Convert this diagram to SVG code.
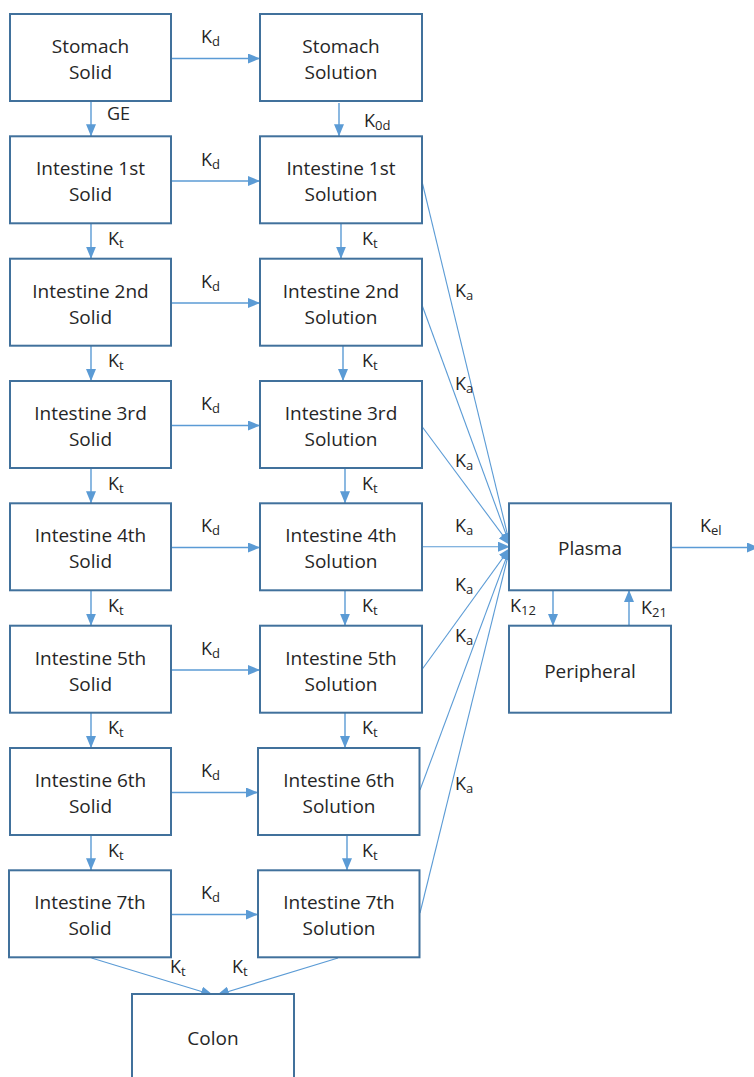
<svg xmlns="http://www.w3.org/2000/svg" width="754" height="1077" viewBox="0 0 754 1077">
<style>
.box{fill:#fff;stroke:#41719C;stroke-width:2}
.t{font-family:"Open Sans","Liberation Sans",sans-serif;font-size:19px;fill:#262626;text-anchor:middle}
.l{font-family:"Open Sans","Liberation Sans",sans-serif;font-size:18px;fill:#262626}
.s{font-size:13px}
.c{stroke:#5B9BD5;stroke-width:1.4;fill:none;marker-end:url(#ah)}
.ka{stroke:#5B9BD5;stroke-width:1.1;fill:none;marker-end:url(#ah)}
</style>
<defs>
<marker id="ah" viewBox="0 0 12 10" refX="12" refY="5" markerWidth="12" markerHeight="10" markerUnits="userSpaceOnUse" orient="auto"><path d="M0,0 L12,5 L0,10 z" fill="#5B9BD5"/></marker>
</defs>
<rect width="754" height="1077" fill="#fff"/>

<g id="connectors">
<line class="c" x1="171" y1="58.5" x2="260" y2="58.5"/>
<line class="c" x1="171" y1="181" x2="260" y2="181"/>
<line class="c" x1="171" y1="303" x2="260" y2="303"/>
<line class="c" x1="171" y1="425.5" x2="260" y2="425.5"/>
<line class="c" x1="171" y1="547.5" x2="260" y2="547.5"/>
<line class="c" x1="171" y1="670" x2="260" y2="670"/>
<line class="c" x1="171" y1="792.5" x2="258" y2="792.5"/>
<line class="c" x1="171" y1="914.5" x2="258" y2="914.5"/>
<line class="c" x1="91" y1="101" x2="91" y2="136.3"/>
<line class="c" x1="91" y1="223.3" x2="91" y2="258.7"/>
<line class="c" x1="91" y1="345.7" x2="91" y2="381"/>
<line class="c" x1="91" y1="468" x2="91" y2="503.3"/>
<line class="c" x1="91" y1="590.3" x2="91" y2="625.7"/>
<line class="c" x1="91" y1="712.7" x2="91" y2="748"/>
<line class="c" x1="91" y1="835" x2="91" y2="870.3"/>
<line class="c" x1="339" y1="103" x2="339" y2="136.3"/>
<line class="c" x1="341" y1="223.3" x2="341" y2="258.7"/>
<line class="c" x1="343" y1="345.7" x2="343" y2="381"/>
<line class="c" x1="345" y1="468" x2="345" y2="503.3"/>
<line class="c" x1="345" y1="590.3" x2="345" y2="625.7"/>
<line class="c" x1="345" y1="712.7" x2="345" y2="748"/>
<line class="c" x1="347" y1="835" x2="347" y2="870.3"/>
<line class="ka" x1="422" y1="181.5" x2="510" y2="545"/>
<line class="ka" x1="422" y1="305" x2="510" y2="545"/>
<line class="ka" x1="422" y1="426.5" x2="510" y2="545"/>
<line class="ka" x1="422" y1="546.7" x2="510" y2="546.7"/>
<line class="ka" x1="422" y1="669.5" x2="510" y2="548"/>
<line class="ka" x1="420" y1="790" x2="510" y2="548"/>
<line class="ka" x1="420" y1="913" x2="510" y2="548"/>
<line class="c" x1="671" y1="547.5" x2="759" y2="547.5"/>
<line class="c" x1="553" y1="590" x2="553" y2="626"/>
<line class="c" x1="629" y1="626" x2="629" y2="590"/>
<line class="ka" x1="91.5" y1="958" x2="213" y2="995"/>
<line class="ka" x1="338" y1="958" x2="217" y2="995"/>
</g>

<g id="labels">
<text class="l" x="201" y="43">K<tspan class="s" dy="3">d</tspan></text>
<text class="l" x="201" y="166">K<tspan class="s" dy="3">d</tspan></text>
<text class="l" x="201" y="288">K<tspan class="s" dy="3">d</tspan></text>
<text class="l" x="201" y="410">K<tspan class="s" dy="3">d</tspan></text>
<text class="l" x="201" y="532">K<tspan class="s" dy="3">d</tspan></text>
<text class="l" x="201" y="655">K<tspan class="s" dy="3">d</tspan></text>
<text class="l" x="201" y="777">K<tspan class="s" dy="3">d</tspan></text>
<text class="l" x="201" y="899">K<tspan class="s" dy="3">d</tspan></text>
<text class="l" x="107" y="120">GE</text>
<text class="l" x="108" y="245">K<tspan class="s" dy="3">t</tspan></text>
<text class="l" x="108" y="367">K<tspan class="s" dy="3">t</tspan></text>
<text class="l" x="108" y="490">K<tspan class="s" dy="3">t</tspan></text>
<text class="l" x="108" y="612">K<tspan class="s" dy="3">t</tspan></text>
<text class="l" x="108" y="734">K<tspan class="s" dy="3">t</tspan></text>
<text class="l" x="108" y="857">K<tspan class="s" dy="3">t</tspan></text>
<text class="l" x="364" y="127">K<tspan class="s" dy="3">0d</tspan></text>
<text class="l" x="362" y="245">K<tspan class="s" dy="3">t</tspan></text>
<text class="l" x="362" y="367">K<tspan class="s" dy="3">t</tspan></text>
<text class="l" x="362" y="490">K<tspan class="s" dy="3">t</tspan></text>
<text class="l" x="362" y="612">K<tspan class="s" dy="3">t</tspan></text>
<text class="l" x="362" y="734">K<tspan class="s" dy="3">t</tspan></text>
<text class="l" x="362" y="857">K<tspan class="s" dy="3">t</tspan></text>
<text class="l" x="455" y="297">K<tspan class="s" dy="3">a</tspan></text>
<text class="l" x="455" y="390">K<tspan class="s" dy="3">a</tspan></text>
<text class="l" x="455" y="467">K<tspan class="s" dy="3">a</tspan></text>
<text class="l" x="455" y="532">K<tspan class="s" dy="3">a</tspan></text>
<text class="l" x="455" y="591">K<tspan class="s" dy="3">a</tspan></text>
<text class="l" x="455" y="642">K<tspan class="s" dy="3">a</tspan></text>
<text class="l" x="455" y="790">K<tspan class="s" dy="3">a</tspan></text>
<text class="l" x="700" y="532">K<tspan class="s" dy="3">el</tspan></text>
<text class="l" x="510" y="612">K<tspan class="s" dy="3">12</tspan></text>
<text class="l" x="641" y="614">K<tspan class="s" dy="3">21</tspan></text>
<text class="l" x="170" y="973">K<tspan class="s" dy="3">t</tspan></text>
<text class="l" x="232" y="973">K<tspan class="s" dy="3">t</tspan></text>
</g>

<g id="stomach-solid"><rect class="box" x="10" y="14" width="161" height="87"/><text class="t" x="90.5" y="53">Stomach</text><text class="t" x="90.5" y="79">Solid</text></g>
<g id="stomach-solution"><rect class="box" x="260" y="14" width="162" height="87"/><text class="t" x="341" y="53">Stomach</text><text class="t" x="341" y="79">Solution</text></g>

<g id="int1-solid"><rect class="box" x="10" y="136.3" width="161" height="87"/><text class="t" x="90.5" y="175.3">Intestine 1st</text><text class="t" x="90.5" y="201.3">Solid</text></g>
<g id="int1-solution"><rect class="box" x="260" y="136.3" width="162" height="87"/><text class="t" x="341" y="175.3">Intestine 1st</text><text class="t" x="341" y="201.3">Solution</text></g>

<g id="int2-solid"><rect class="box" x="10" y="258.7" width="161" height="87"/><text class="t" x="90.5" y="297.7">Intestine 2nd</text><text class="t" x="90.5" y="323.7">Solid</text></g>
<g id="int2-solution"><rect class="box" x="260" y="258.7" width="162" height="87"/><text class="t" x="341" y="297.7">Intestine 2nd</text><text class="t" x="341" y="323.7">Solution</text></g>

<g id="int3-solid"><rect class="box" x="10" y="381" width="161" height="87"/><text class="t" x="90.5" y="420">Intestine 3rd</text><text class="t" x="90.5" y="446">Solid</text></g>
<g id="int3-solution"><rect class="box" x="260" y="381" width="162" height="87"/><text class="t" x="341" y="420">Intestine 3rd</text><text class="t" x="341" y="446">Solution</text></g>

<g id="int4-solid"><rect class="box" x="10" y="503.3" width="161" height="87"/><text class="t" x="90.5" y="542.3">Intestine 4th</text><text class="t" x="90.5" y="568.3">Solid</text></g>
<g id="int4-solution"><rect class="box" x="260" y="503.3" width="162" height="87"/><text class="t" x="341" y="542.3">Intestine 4th</text><text class="t" x="341" y="568.3">Solution</text></g>

<g id="int5-solid"><rect class="box" x="10" y="625.7" width="161" height="87"/><text class="t" x="90.5" y="664.7">Intestine 5th</text><text class="t" x="90.5" y="690.7">Solid</text></g>
<g id="int5-solution"><rect class="box" x="260" y="625.7" width="162" height="87"/><text class="t" x="341" y="664.7">Intestine 5th</text><text class="t" x="341" y="690.7">Solution</text></g>

<g id="int6-solid"><rect class="box" x="10" y="748" width="161" height="87"/><text class="t" x="90.5" y="787">Intestine 6th</text><text class="t" x="90.5" y="813">Solid</text></g>
<g id="int6-solution"><rect class="box" x="258" y="748" width="161.5" height="87"/><text class="t" x="339" y="787">Intestine 6th</text><text class="t" x="339" y="813">Solution</text></g>

<g id="int7-solid"><rect class="box" x="9" y="870.3" width="162" height="87"/><text class="t" x="90" y="909.3">Intestine 7th</text><text class="t" x="90" y="935.3">Solid</text></g>
<g id="int7-solution"><rect class="box" x="258" y="870.3" width="161.5" height="87"/><text class="t" x="339" y="909.3">Intestine 7th</text><text class="t" x="339" y="935.3">Solution</text></g>

<g id="plasma"><rect class="box" x="509" y="503.3" width="162" height="87"/><text class="t" x="590" y="555">Plasma</text></g>
<g id="peripheral"><rect class="box" x="509" y="625.7" width="162" height="87"/><text class="t" x="590" y="678">Peripheral</text></g>
<g id="colon"><rect class="box" x="132" y="994" width="162" height="100"/><text class="t" x="213" y="1045">Colon</text></g>
</svg>
